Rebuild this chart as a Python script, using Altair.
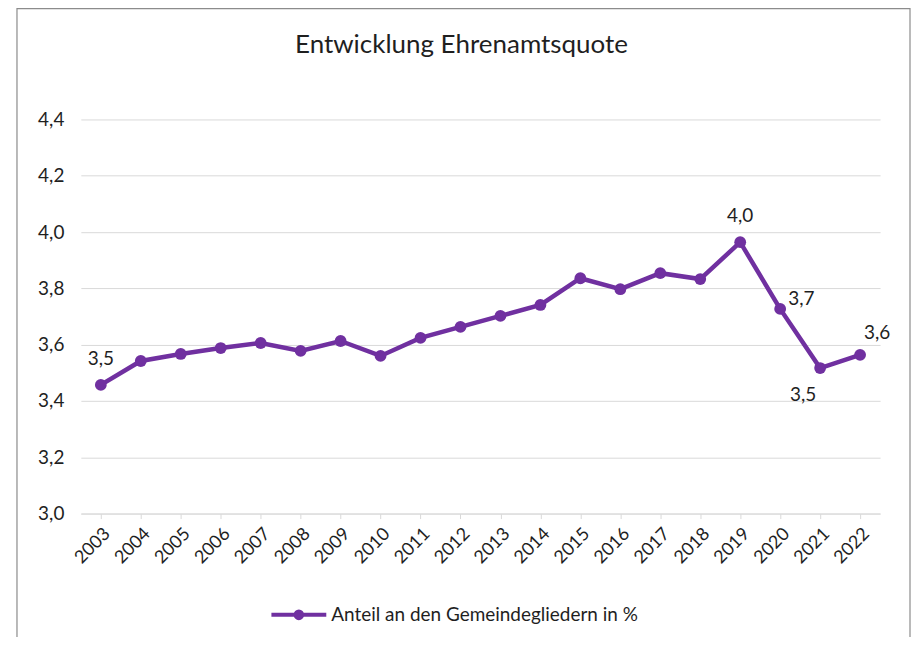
import altair as alt
import pandas as pd

title_text = "Entwicklung Ehrenamtsquote"
years = [str(y) for y in range(2003, 2023)]
values = [3.457, 3.542, 3.567, 3.588, 3.606, 3.578, 3.613, 3.560, 3.624, 3.663,
          3.702, 3.741, 3.836, 3.797, 3.854, 3.833, 3.964, 3.727, 3.517, 3.564]
series_name = "Anteil an den Gemeindegliedern in %"
label_years = ["2003", "2019", "2020", "2021", "2022"]
label_pos = ["above", "above", "right", "below", "aboveright"]
y_ticks = [3.0, 3.2, 3.4, 3.6, 3.8, 4.0, 4.2, 4.4]

PURPLE = "#7030A0"
FONT = "Lato"
TXT = "#1f1f1f"

df = pd.DataFrame({"year": years, "value": values, "series": series_name})
pos_map = dict(zip(label_years, label_pos))
df["pos"] = df["year"].map(pos_map).fillna("none")

W, H = 801, 395

x_enc = alt.X("year:O", title=None,
              scale=alt.Scale(type="point", padding=0.5),
              axis=alt.Axis(labelAngle=-45, labelFontSize=18, labelFont=FONT,
                            labelColor=TXT, domainColor="#d9d9d9", tickColor="#d9d9d9",
                            tickSize=5, labelPadding=6, grid=False))
y_enc = alt.Y("value:Q", title=None,
              scale=alt.Scale(domain=[3.0, 4.4], nice=False, zero=False),
              axis=alt.Axis(values=y_ticks, grid=True, gridColor="#d9d9d9", gridWidth=1,
                            domain=False, ticks=False, labelPadding=17,
                            labelFontSize=19, labelFont=FONT, labelColor=TXT,
                            labelExpr="replace(format(datum.value, '.1f'), '.', ',')"))

color_enc = alt.Color("series:N", title=None,
                      scale=alt.Scale(range=[PURPLE]),
                      legend=alt.Legend(orient="none", legendX=189, legendY=467,
                                        symbolType="M-1,0H1M0.12,0A0.12,0.12,0,1,1,-0.12,0A0.12,0.12,0,1,1,0.12,0Z",
                                        symbolSize=3025, symbolStrokeWidth=4,
                                        symbolFillColor=PURPLE, symbolStrokeColor=PURPLE,
                                        labelFontSize=19, labelFont=FONT, labelColor=TXT,
                                        labelOffset=3, labelLimit=500))

base = alt.Chart(df)

line = base.mark_line(strokeWidth=4.5).encode(x=x_enc, y=y_enc, color=color_enc)
points = base.mark_point(filled=True, size=140, opacity=1).encode(x=x_enc, y=y_enc, color=color_enc)

lab = base.transform_calculate(lbl="replace(format(datum.value, '.1f'), '.', ',')")
txt_kw = dict(fontSize=19, font=FONT, color=TXT, baseline="middle")
above = lab.transform_filter("datum.pos == 'above'").mark_text(dy=-26, **txt_kw).encode(
    x="year:O", y="value:Q", text="lbl:N")
right = lab.transform_filter("datum.pos == 'right'").mark_text(align="left", dx=8, dy=-10, **txt_kw).encode(
    x="year:O", y="value:Q", text="lbl:N")
below = lab.transform_filter("datum.pos == 'below'").mark_text(dx=-17, dy=27, **txt_kw).encode(
    x="year:O", y="value:Q", text="lbl:N")
aboveright = lab.transform_filter("datum.pos == 'aboveright'").mark_text(dx=17, dy=-22, **txt_kw).encode(
    x="year:O", y="value:Q", text="lbl:N")

one = alt.Chart(pd.DataFrame({"t": [title_text]}))
frame = one.mark_rect(
    filled=False, stroke="#8c8c8c", strokeWidth=1.2
).encode(x=alt.value(-64), x2=alt.value(831), y=alt.value(-111), y2=alt.value(620))
title = one.mark_text(fontSize=26, font=FONT, color=TXT, baseline="middle", align="center").encode(
    x=alt.value(381.5), y=alt.value(-75), text="t:N")

chart = alt.layer(frame, title, line, points, above, right, below, aboveright).properties(
    width=W, height=H,
    autosize=alt.AutoSizeParams(type="none"),
    padding={"left": 73, "top": 111, "right": 31, "bottom": 123},
).configure(background="white").configure_view(strokeWidth=0)

chart.save("out.html", embed_options={"renderer": "svg", "actions": False})
